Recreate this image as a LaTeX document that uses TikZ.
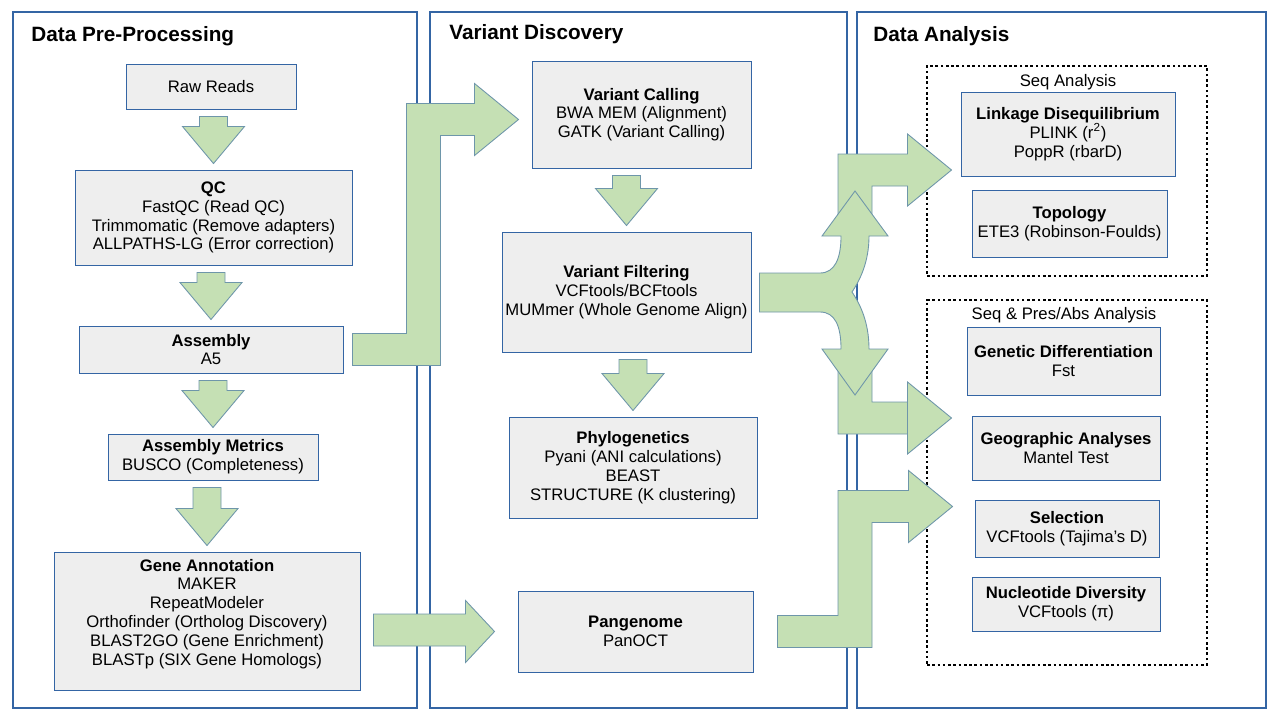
\documentclass[tikz,border=0pt]{standalone}
\usepackage{fontspec}
\setmainfont{Liberation Sans}
\usetikzlibrary{calc}
\definecolor{bordc}{HTML}{3465A4}
\definecolor{boxc}{HTML}{EEEEEE}
\definecolor{greenc}{RGB}{197,224,180}
\begin{document}
\begin{tikzpicture}[x=0.02cm, y=-0.02cm,
	wh/.style 2 args={minimum width=#1*0.02cm, minimum height=#2*0.02cm},
	panel/.style={draw=bordc, line width=0.6pt},
	group/.style={draw=black, line width=0.6pt, dash pattern=on 1.5pt off 1.5pt},
	box/.style={draw=bordc, fill=boxc, line width=0.55pt, inner sep=0pt, align=center, font=\fontsize{9.5}{10.7}\selectfont},
	head/.style={anchor=west, inner sep=0pt, font=\fontsize{11.8}{13}\selectfont\bfseries},
	lbl/.style={inner sep=0pt, font=\fontsize{9.5}{10.6}\selectfont},
	garrow/.style={fill=greenc, draw=bordc!60!greenc, line width=0.5pt, line join=miter}]
	\useasboundingbox (0,0) rectangle (1280,720);
	
	%panels
	\node (p1) at (215, 360) [panel, wh={404}{696}]{};
	\node (p2) at (638.5, 360) [panel, wh={417}{696}]{};
	\node (p3) at (1061.5, 360) [panel, wh={409}{696}]{};
	\node (h1) at (31, 36) [head]{Data Pre-Processing};
	\node (h2) at (449, 34) [head]{Variant Discovery};
	\node (h3) at (873, 36) [head]{Data Analysis};
	
	%analysis groups
	\node (seqg) at (1067, 171) [group, wh={280}{210}]{};
	\node (presg) at (1067, 482.5) [group, wh={280}{365}]{};
	\node (seql) at (1068, 82) [lbl]{Seq Analysis};
	\node (presl) at (1064, 315) [lbl]{Seq \& Pres/Abs Analysis};
	
	%pre-processing
	\node (raw) at (211, 86.5) [box, wh={170}{45}]{Raw Reads};
	\node (qc) at (213.5, 217.5) [box, wh={277}{95}]{\textbf{QC}\\FastQC (Read QC)\\Trimmomatic (Remove adapters)\\ALLPATHS-LG (Error correction)};
	\node (asm) at (211, 349.5) [box, wh={264}{47}]{\textbf{Assembly}\\A5};
	\node (met) at (213, 457) [box, wh={210}{46}]{\textbf{Assembly Metrics}\\BUSCO (Completeness)};
	\node (gene) at (207, 621) [box, wh={306}{138}]{\textbf{Gene Annotation}\\MAKER\\RepeatModeler\\Orthofinder (Ortholog Discovery)\\BLAST2GO (Gene Enrichment)\\BLASTp (SIX Gene Homologs)\\[-0.4pt]\mbox{}};
	
	%variant discovery
	\node (vc) at (641.5, 114.5) [box, wh={219}{107}]{\textbf{Variant Calling}\\BWA MEM (Alignment)\\GATK (Variant Calling)};
	\node (filt) at (626.5, 292) [box, wh={249}{120}]{\textbf{Variant Filtering}\\VCFtools/BCFtools\\MUMmer (Whole Genome Align)};
	\node (phy) at (633, 467.5) [box, wh={248}{101}]{\textbf{Phylogenetics}\\Pyani (ANI calculations)\\BEAST\\STRUCTURE (K clustering)};
	\node (pan) at (635.5, 631.5) [box, wh={235}{81}]{\textbf{Pangenome}\\PanOCT};
	
	%data analysis
	\node (link) at (1068, 134) [box, wh={214}{84}]{\textbf{Linkage Disequilibrium}\\PLINK (r\textsuperscript{2})\\PoppR (rbarD)};
	\node (topo) at (1069.5, 223.5) [box, wh={195}{67}]{\textbf{Topology}\\ETE3 (Robinson-Foulds)};
	\node (gd) at (1063.5, 361) [box, wh={193}{68}]{\textbf{Genetic Differentiation}\\Fst};
	\node (geo) at (1066, 448) [box, wh={188}{64}]{\textbf{Geographic Analyses}\\Mantel Test};
	\node (sel) at (1067, 528.5) [box, wh={184}{57}]{\textbf{Selection}\\VCFtools (Tajima’s D)};
	\node (nuc) at (1066, 604) [box, wh={188}{54}]{\textbf{Nucleotide Diversity}\\VCFtools (π)};
	
	%down arrows
	\foreach \a/\b in {raw/qc, qc/asm, asm/met, met/gene, vc/filt, filt/phy}{
		\coordinate (ta) at ($(\b.north |- \a.south)+(0,7)$);
		\coordinate (tb) at ($(\b.north)+(0,-6)$);
		\filldraw[garrow] ($(ta)+(-14,0)$) -- ($(ta)+(14,0)$) -- ($(tb)+(14,-37)$) -- ($(tb)+(31,-37)$) -- (tb) -- ($(tb)+(-31,-37)$) -- ($(tb)+(-14,-37)$) -- cycle;
	}
	
	%bent arrows
	\coordinate (gap1) at ($(p1.east)!0.5!(p2.west)$);
	\coordinate (gap2) at ($(p2.east)!0.5!(p3.west)+(3,0)$);
	\coordinate (fork) at (gap2 |- filt.east);
	\coordinate (s1) at ($(asm.east)+(9,0)$);
	\coordinate (e1) at ($(vc.west)+(-13,5)$);
	\coordinate (s2) at ($(pan.east)+(24,0)$);
	\coordinate (e2) at ($(sel.west)+(-22,-22)$);
	\coordinate (s3) at ($(fork)+(-17,-78)$);
	\coordinate (e3) at ($(link.west)+(-9,36)$);
	\coordinate (s4) at ($(fork)+(-17,79)$);
	\coordinate (e4) at ($(geo.west)+(-20,-30)$);
	\foreach \s/\e/\m/\d in {s1/e1/gap1/1, s2/e2/gap2/1, s3/e3/gap2/1, s4/e4/gap2/-1}{
		\filldraw[garrow] ($(\s)+(0,16*\d)$) -- ($(\m |- \s)+(17,16*\d)$) -- ($(\m |- \e)+(17,16*\d)$) -- ($(\e)+(-44,16*\d)$) -- ($(\e)+(-44,36)$) -- (\e) -- ($(\e)+(-44,-36)$) -- ($(\e)+(-44,-16*\d)$) -- ($(\m |- \e)+(-17,-16*\d)$) -- ($(\m |- \s)+(-17,-16*\d)$) -- ($(\s)+(0,-16*\d)$) -- cycle;
	}
	
	%split arrow
	\filldraw[garrow] ($(filt.east)+(8,-19)$) -- ($(fork)+(-35,-19)$) .. controls ($(fork)+(-20,-19)$) and ($(fork)+(-14,-34)$) .. ($(fork)+(-14,-56)$) -- ($(fork)+(-33,-56)$) -- ($(fork)+(0,-101)$) -- ($(fork)+(33,-56)$) -- ($(fork)+(14,-56)$) .. controls ($(fork)+(14,-30)$) and ($(fork)+(5,-12)$) .. ($(fork)+(-3,0)$) .. controls ($(fork)+(5,12)$) and ($(fork)+(14,30)$) .. ($(fork)+(14,57)$) -- ($(fork)+(33,57)$) -- ($(fork)+(0,103)$) -- ($(fork)+(-33,57)$) -- ($(fork)+(-14,57)$) .. controls ($(fork)+(-14,34)$) and ($(fork)+(-20,20)$) .. ($(fork)+(-35,20)$) -- ($(filt.east)+(8,20)$) -- cycle;
	
	%straight arrow
	\coordinate (s5) at ($(gene.east)+(13,9)$);
	\coordinate (e5) at ($(pan.west)+(-23,0)$);
	\filldraw[garrow] ($(s5)+(0,-16)$) -- ($(e5 |- s5)+(-29,-16)$) -- ($(e5)+(-29,-31)$) -- (e5) -- ($(e5)+(-29,31)$) -- ($(e5 |- s5)+(-29,16)$) -- ($(s5)+(0,16)$) -- cycle;
\end{tikzpicture}
\end{document}
